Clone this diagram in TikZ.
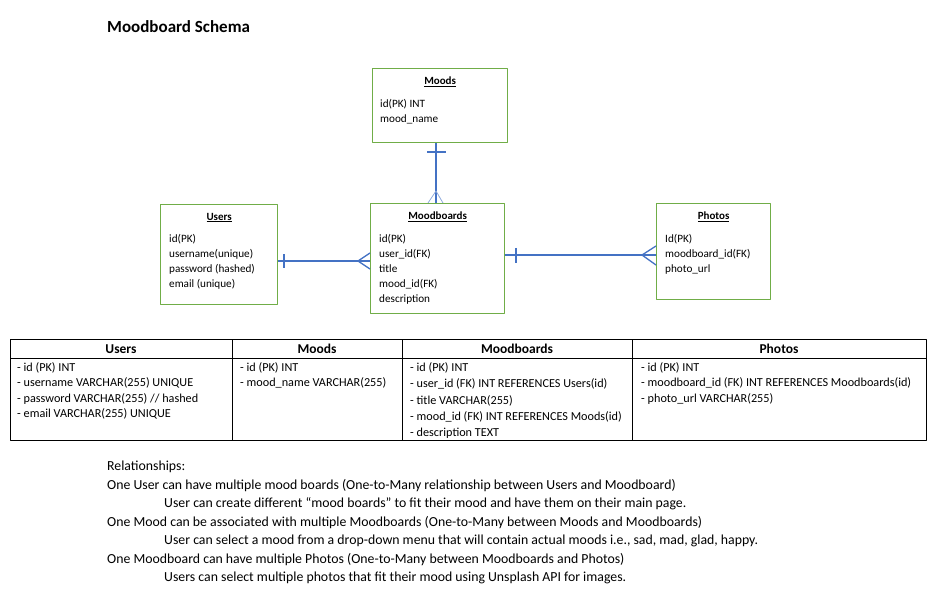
\documentclass[tikz,border=0pt]{standalone}
\usepackage{fontspec}
\setmainfont{Carlito}
\usepackage[svgnames]{xcolor}
\usepackage{tikz}
\usetikzlibrary{positioning}
\definecolor{boxgreen}{RGB}{112,173,71}
\definecolor{relblue}{RGB}{68,114,196}

\begin{document}
\begin{tikzpicture}[x=1pt, y=-1pt, line join=round,
  entity/.style={draw=boxgreen, line width=1.3pt, anchor=north west, inner sep=0pt},
  enttitle/.style={font=\fontsize{11}{13}\selectfont\bfseries, inner sep=0pt},
  entrows/.style={font=\fontsize{11.2}{15}\selectfont, align=left, anchor=north west, inner sep=0pt},
  rel/.style={draw=relblue, line width=1.7pt},
  foot/.style={draw=relblue, line width=1.3pt},
  thinfoot/.style={draw=relblue!60, line width=0.8pt},
  grid/.style={draw=black, line width=0.9pt},
  head/.style={font=\fontsize{13.5}{16}\selectfont\bfseries, inner sep=0pt},
  cell/.style={font=\fontsize{12.2}{15.3}\selectfont, align=left, anchor=north west, inner sep=0pt}]

\useasboundingbox (0,0) rectangle (930,591);

\node[font=\fontsize{17}{20}\selectfont\bfseries, anchor=base west, inner sep=0pt] (title) at (107,33) {Moodboard Schema};

\node[entity, minimum width=135pt, minimum height=74pt] (moods) at (372,68) {};
\node[entity, minimum width=117pt, minimum height=100pt] (users) at (160,204) {};
\node[entity, minimum width=134pt, minimum height=110pt] (mb) at (370,203) {};
\node[entity, minimum width=114pt, minimum height=96pt] (photos) at (656,203) {};

\node[enttitle] (moods title) at ([yshift=-14pt]moods.north) {\underline{Moods}};
\node[enttitle] (users title) at ([yshift=-13.5pt]users.north) {\underline{Users}};
\node[enttitle] (mb title) at ([yshift=-13.5pt]mb.north) {\underline{Moodboards}};
\node[enttitle] (photos title) at ([yshift=-13.5pt]photos.north) {\underline{Photos}};

\node[entrows] (moods rows) at ([xshift=8pt, yshift=-31pt]moods.north west) {id(PK) INT\\ mood\_name};
\node[entrows] (users rows) at ([xshift=9pt, yshift=-30pt]users.north west) {id(PK)\\ username(unique)\\ password (hashed)\\ email (unique)};
\node[entrows] (mb rows) at ([xshift=9pt, yshift=-31pt]mb.north west) {id(PK)\\ user\_id(FK)\\ title\\ mood\_id(FK)\\ description};
\node[entrows] (photos rows) at ([xshift=9pt, yshift=-31pt]photos.north west) {Id(PK)\\ moodboard\_id(FK)\\ photo\_url};

\coordinate (m1) at (moods.south -| 436,0);
\coordinate (m2) at (mb.north -| 436,0);
\draw[rel] (m1) -- (m2);
\draw[rel] (m1) ++(-9,9) -- ++(19,0);
\draw[thinfoot] (m2) ++(-8,0) -- ++(8,-12) -- ++(7,12);

\coordinate (u1) at (users.east |- 0,261);
\coordinate (u2) at (mb.west |- 0,261);
\draw[rel] (u1) -- (u2);
\draw[rel] (u1) ++(6,-7) -- ++(0,14);
\draw[foot] (u2) ++(0,-8) -- ++(-12,8) -- ++(12,8);

\coordinate (p1) at (mb.east |- 0,255);
\coordinate (p2) at (photos.west |- 0,255);
\draw[rel] (p1) -- (p2);
\draw[rel] (p1) ++(11,-7) -- ++(0,15);
\draw[foot] (p2) ++(0,-9) -- ++(-14,9) -- ++(14,10);

\draw[grid] (10,339) rectangle (926,440);
\draw[grid] (10,358) -- (926,358);
\foreach \x in {232,402,632}
  \draw[grid] (\x,339) -- (\x,440);

\node[head] (users head) at (121,349) {Users};
\node[head] (moods head) at (317,349) {Moods};
\node[head] (mb head) at (517,349) {Moodboards};
\node[head] (photos head) at (779,349) {Photos};

\node[cell] (users cell) at (17,362.5) {- id (PK) INT\\ - username VARCHAR(255) UNIQUE\\ - password VARCHAR(255) // hashed\\ - email VARCHAR(255) UNIQUE};
\node[cell] (moods cell) at (240,362.5) {- id (PK) INT\\ - mood\_name VARCHAR(255)};
\node[cell, font=\fontsize{12.2}{16.2}\selectfont] (mb cell) at (410,362.5) {- id (PK) INT\\ - user\_id (FK) INT REFERENCES Users(id)\\ - title VARCHAR(255)\\ - mood\_id (FK) INT REFERENCES Moods(id)\\ - description TEXT};
\node[cell] (photos cell) at (641,362.5) {- id (PK) INT\\ - moodboard\_id (FK) INT REFERENCES Moodboards(id)\\ - photo\_url VARCHAR(255)};

\node[font=\fontsize{13.8}{18.5}\selectfont, align=left, anchor=north west, inner sep=0pt] (relations) at (107,461) {Relationships:\\
One User can have multiple mood boards (One-to-Many relationship between Users and Moodboard)\\
\hspace*{57pt}User can create different “mood boards” to fit their mood and have them on their main page.\\
One Mood can be associated with multiple Moodboards (One-to-Many between Moods and Moodboards)\\
\hspace*{57pt}User can select a mood from a drop-down menu that will contain actual moods i.e., sad, mad, glad, happy.\\
One Moodboard can have multiple Photos (One-to-Many between Moodboards and Photos)\\
\hspace*{57pt}Users can select multiple photos that fit their mood using Unsplash API for images.};
\end{tikzpicture}
\end{document}
